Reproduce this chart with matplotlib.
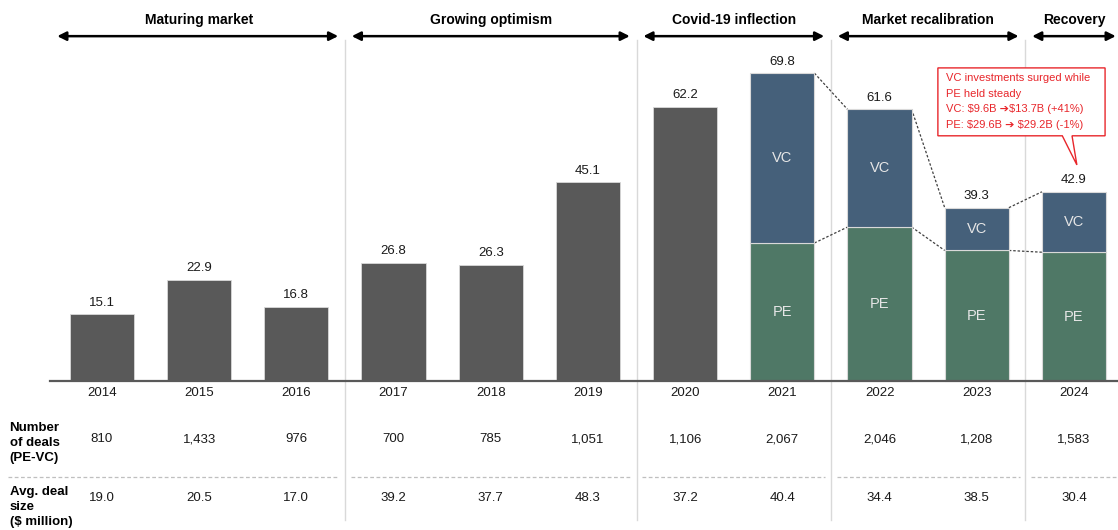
import matplotlib.pyplot as plt
from matplotlib.patches import Polygon

plt.rcParams['font.family'] = ['Liberation Sans', 'DejaVu Sans']
plt.rcParams['text.parse_math'] = False

years = ['2014', '2015', '2016', '2017', '2018', '2019', '2020', '2021', '2022', '2023', '2024']
total_values = [15.1, 22.9, 16.8, 26.8, 26.3, 45.1, 62.2, 69.8, 61.6, 39.3, 42.9]
split_years = ['2021', '2022', '2023', '2024']
pe_values = [31.3, 34.9, 29.6, 29.2]
vc_values = [38.5, 26.7, 9.7, 13.7]
deals = [810, 1433, 976, 700, 785, 1051, 1106, 2067, 2046, 1208, 1583]
avg_deal = [19.0, 20.5, 17.0, 39.2, 37.7, 48.3, 37.2, 40.4, 34.4, 38.5, 30.4]

phases = ['Maturing market', 'Growing optimism', 'Covid-19 inflection', 'Market recalibration', 'Recovery']
phase_years = [(0, 2), (3, 5), (6, 7), (8, 9), (10, 10)]  # first / last index of each phase

callout = ['VC investments surged while', 'PE held steady',
           'VC: $9.6B \u2794$13.7B (+41%)', 'PE: $29.6B \u2794 $29.2B (-1%)']

GRAY = '#595959'
VC_COL = '#45607a'
PE_COL = '#4f7866'
RED = '#e8262b'
W = 0.66

fig = plt.figure(figsize=(11.18, 5.30), dpi=100)
ax = fig.add_axes([0, 0, 1, 1])
ax.set_xlim(-1.049, 10.453)
ax.set_ylim(-33.8, 86.4)
ax.axis('off')

x = list(range(len(years)))
n_gray = len(years) - len(split_years)

# plain gray bars
ax.bar(x[:n_gray], total_values[:n_gray], width=W, color=GRAY, edgecolor='#d9d9d9', linewidth=0.6, zorder=3)

# stacked PE / VC bars
xs = x[n_gray:]
ax.bar(xs, pe_values, width=W, color=PE_COL, edgecolor='#d9d9d9', linewidth=0.8, zorder=3)
ax.bar(xs, vc_values, bottom=pe_values, width=W, color=VC_COL, edgecolor='#d9d9d9', linewidth=0.8, zorder=3)
for i, xi in enumerate(xs):
    ax.text(xi, pe_values[i] / 2, 'PE', ha='center', va='center', color='#e6e6e6', fontsize=10.5, zorder=4)
    ax.text(xi, pe_values[i] + vc_values[i] / 2, 'VC', ha='center', va='center', color='#e6e6e6', fontsize=10.5, zorder=4)

# dashed connectors between stacked bars
for i in range(len(xs) - 1):
    top1 = pe_values[i] + vc_values[i]
    top2 = pe_values[i + 1] + vc_values[i + 1]
    ax.plot([xs[i] + W / 2, xs[i + 1] - W / 2], [top1, top2], ls=(0, (2, 1.5)), color='#404040', lw=0.9, zorder=2)
    ax.plot([xs[i] + W / 2, xs[i + 1] - W / 2], [pe_values[i], pe_values[i + 1]], ls=(0, (2, 1.5)), color='#404040', lw=0.9, zorder=2)

# value labels
for xi, v in zip(x, total_values):
    ax.annotate(f'{v:.1f}', (xi, v), xytext=(0, 4), textcoords='offset points',
                ha='center', va='bottom', fontsize=9.5, color='#1a1a1a')

# baseline
ax.plot([-0.535, 10.453], [0, 0], color='#595959', lw=1.6, zorder=4)

# phase separators, headers, arrows
for k, (a, b) in enumerate(phase_years):
    if k > 0:
        ax.plot([a - 0.5, a - 0.5], [-31.5, 77.3], color='#d9d9d9', lw=1.0, zorder=1)
    left = a - 0.5 + (0.04 if k == 0 else 0.07)
    right = b + 0.5 - 0.07
    ax.annotate('', xy=(right, 78.2), xytext=(left, 78.2),
                arrowprops=dict(arrowstyle='<|-|>', color='black', lw=1.8, mutation_scale=13, shrinkA=0, shrinkB=0))
    ax.text((a + b) / 2, 81.9, phases[k], ha='center', va='center', fontsize=10, fontweight='bold')

# table below
for xi in x:
    ax.text(xi, -2.7, years[xi], ha='center', va='center', fontsize=9.5, color='#1a1a1a')
    ax.text(xi, -13.2, f'{deals[xi]:,}', ha='center', va='center', fontsize=9.5, color='#1a1a1a')
    ax.text(xi, -26.5, f'{avg_deal[xi]:.1f}', ha='center', va='center', fontsize=9.5, color='#1a1a1a')

ax.text(-0.95, -14.1, 'Number\nof deals\n(PE-VC)', ha='left', va='center', fontsize=9.5,
        fontweight='bold', linespacing=1.3)
ax.text(-0.95, -28.6, 'Avg. deal\nsize\n($ million)', ha='left', va='center', fontsize=9.5,
        fontweight='bold', linespacing=1.3)

seg_edges = [-0.97] + [a - 0.5 for a, b in phase_years[1:]] + [10.453]
for k in range(len(seg_edges) - 1):
    l = seg_edges[k] + (0 if k == 0 else 0.06)
    r = seg_edges[k + 1] - (0 if k == len(seg_edges) - 2 else 0.06)
    ax.plot([l, r], [-21.8, -21.8], ls=(0, (3, 2)), color='#bfbfbf', lw=0.9)

# callout box
box = Polygon([(8.60, 71.0), (10.32, 71.0), (10.32, 55.6), (9.98, 55.6), (10.03, 49.0),
               (9.88, 55.6), (8.60, 55.6)], closed=True, facecolor='white', edgecolor=RED, lw=1.0, zorder=5)
ax.add_patch(box)
for j, line in enumerate(callout):
    ax.text(8.68, 68.7 - j * 3.55, line, ha='left', va='center', fontsize=8, color=RED, zorder=6)

plt.savefig('out.png', dpi=100)
